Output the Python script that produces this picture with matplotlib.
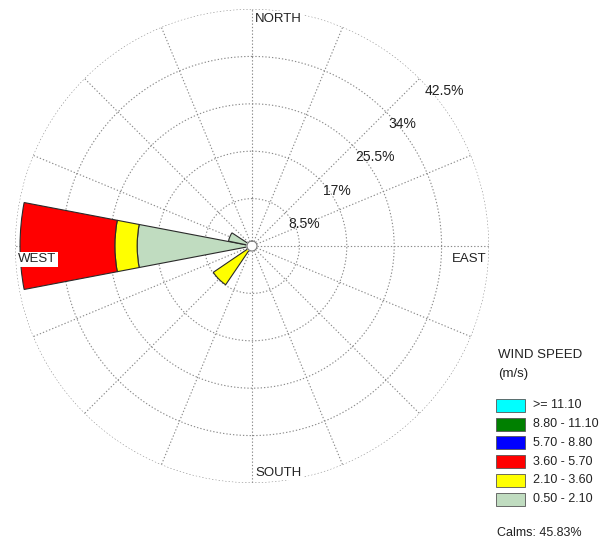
import numpy as np
import matplotlib
matplotlib.use("Agg")
import matplotlib.pyplot as plt
from matplotlib.patches import Rectangle

plt.rcParams['font.family'] = ['Liberation Sans', 'DejaVu Sans']

# 16 compass sectors, bearing of each sector centre (degrees, clockwise from north)
directions = ['N', 'NNE', 'NE', 'ENE', 'E', 'ESE', 'SE', 'SSE',
              'S', 'SSW', 'SW', 'WSW', 'W', 'WNW', 'NW', 'NNW']
bearings = [0, 22.5, 45, 67.5, 90, 112.5, 135, 157.5,
            180, 202.5, 225, 247.5, 270, 292.5, 315, 337.5]

# frequency (%) per speed class and sector
freq_050_210 = [0, 0, 0, 0, 0, 0, 0, 0, 0, 0, 0, 0, 20.6, 4.3, 0, 0]
freq_210_360 = [0, 0, 0, 0, 0, 0, 0, 0, 0, 0, 8.4, 0, 4.0, 0, 0, 0]
freq_360_570 = [0, 0, 0, 0, 0, 0, 0, 0, 0, 0, 0, 0, 17.0, 0, 0, 0]
freq_570_880 = [0] * 16
freq_880_1110 = [0] * 16
freq_ge_1110 = [0] * 16

speed_labels = ['>= 11.10', '8.80 - 11.10', '5.70 - 8.80',
                '3.60 - 5.70', '2.10 - 3.60', '0.50 - 2.10']
speed_colors = ['#00ffff', '#008000', '#0000ff', '#ff0000', '#ffff00', '#c0dcc0']
calms = 45.83

ring_values = [8.5, 17, 25.5, 34, 42.5]
ring_labels = ['8.5%', '17%', '25.5%', '34%', '42.5%']

fig = plt.figure(figsize=(6.06, 5.53), dpi=100)
ax = fig.add_axes([0.02475, 0.1266, 0.7822, 0.8571], projection='polar')
ax.set_theta_zero_location('N')
ax.set_theta_direction(-1)
ax.set_ylim(0, 42.5)
ax.grid(False)
ax.set_xticks([])
ax.set_yticks([])
ax.spines['polar'].set_visible(False)

grid_kw = dict(color='#8a8a8a', lw=0.8, linestyle=(0, (1.2, 1.8)), zorder=1)
full = np.linspace(0, 2 * np.pi, 400)
for rv in ring_values:
    ax.plot(full, np.full_like(full, rv), **grid_kw)
for b in bearings:
    t = np.deg2rad(b)
    ax.plot([t, t], [0.9, 42.5], **grid_kw)

# stacked sector bars, lowest speed class innermost
theta = np.deg2rad(bearings)
width = np.deg2rad(21.6)
stack = [freq_050_210, freq_210_360, freq_360_570,
         freq_570_880, freq_880_1110, freq_ge_1110]
stack_colors = speed_colors[::-1]
bottom = np.zeros(16)
for vals, col in zip(stack, stack_colors):
    vals = np.array(vals, dtype=float)
    mask = vals > 0
    if mask.any():
        ax.bar(theta[mask], vals[mask], width=width, bottom=bottom[mask],
               color=col, edgecolor='#2a2a2a', linewidth=0.8, zorder=3)
    bottom += vals

# calm circle at the centre
ax.fill(full, np.full_like(full, 0.9), color='white', zorder=4)
ax.plot(full, np.full_like(full, 0.9), color='#777777', lw=0.8, zorder=5)

# ring labels
label_pos = [(67, 10.1), (57, 18.1), (54, 27.3), (51, 34.8), (51, 44.3)]
for (bdeg, rr), txt in zip(label_pos, ring_labels):
    ax.text(np.deg2rad(bdeg), rr, txt, fontsize=10, color='#222222',
            ha='center', va='center', zorder=6, clip_on=False)

# compass labels
box = dict(facecolor='white', edgecolor='none', pad=1.0)
fig.text(0.421, 0.9665, 'NORTH', fontsize=9.5, ha='left', va='center', color='#222222', bbox=box)
fig.text(0.030, 0.5310, 'WEST', fontsize=9.5, ha='left', va='center', color='#222222', bbox=box)
fig.text(0.802, 0.5310, 'EAST', fontsize=9.5, ha='right', va='center', color='#222222', bbox=box)
fig.text(0.421, 0.1447, 'SOUTH', fontsize=9.5, ha='left', va='center', color='#222222', bbox=box)

# legend
W, H = 606.0, 553.0
fig.text(498 / W, 1 - 355 / H, 'WIND SPEED', fontsize=9.5, ha='left', va='center', color='#222222')
fig.text(498 / W, 1 - 374 / H, '(m/s)', fontsize=9.5, ha='left', va='center', color='#222222')
for i, (lab, col) in enumerate(zip(speed_labels, speed_colors)):
    ytop = 399 + i * 18.7
    fig.patches.append(Rectangle((496 / W, 1 - (ytop + 13) / H), 29 / W, 13 / H,
                                 transform=fig.transFigure, facecolor=col,
                                 edgecolor='#555555', linewidth=0.6))
    fig.text(533 / W, 1 - (ytop + 6.5) / H, lab, fontsize=9, ha='left', va='center', color='#222222')
fig.text(497 / W, 1 - 533 / H, f'Calms: {calms:.2f}%', fontsize=9, ha='left', va='center', color='#222222')

fig.savefig('out.png', dpi=100)
